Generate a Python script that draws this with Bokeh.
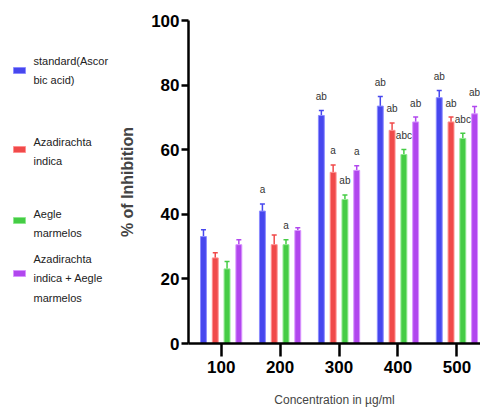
from bokeh.plotting import figure
from bokeh.models import Range1d, ColumnDataSource, Whisker, TeeHead, FixedTicker
from bokeh.layouts import row
from bokeh.core.properties import value
from bokeh.embed import file_html
from bokeh.resources import INLINE

# ---------------- data ----------------
concentrations = ["100", "200", "300", "400", "500"]
series_names = ["standard(Ascor\nbic acid)", "Azadirachta\nindica", " Aegle\nmarmelos",
                "Azadirachta\nindica + Aegle\nmarmelos"]
standard_vals = [33.1, 41.0, 70.6, 73.5, 76.1]
standard_err = [2.1, 2.2, 1.5, 3.0, 2.2]
azadirachta_vals = [26.5, 30.6, 53.0, 66.0, 68.6]
azadirachta_err = [1.6, 3.0, 2.3, 2.3, 1.5]
aegle_vals = [23.1, 30.6, 44.6, 58.5, 63.5]
aegle_err = [2.3, 1.5, 1.4, 1.6, 1.6]
combo_vals = [30.6, 35.0, 53.6, 68.6, 71.1]
combo_err = [1.5, 0.8, 1.4, 1.5, 2.3]
standard_sig = ["", "a", "ab", "ab", "ab"]
azadirachta_sig = ["", "", "a", "ab", "ab"]
aegle_sig = ["", "a", "ab", "abc", "abc"]
combo_sig = ["", "", "a", "ab", "ab"]
y_ticks = [0, 20, 40, 60, 80, 100]

# ---------------- style ----------------
fills = ["#4747ee", "#f04a4a", "#45cc45", "#b147ee"]
edges = ["#8c8cff", "#ff9090", "#8ee88e", "#d894ff"]
offsets = [-0.3, -0.1, 0.1, 0.3]
FONT = "Liberation Sans"
TOP, BOTTOM = 20, 69

p = figure(width=364, height=412, x_range=Range1d(0.446, 5.40), y_range=Range1d(0, 100),
           output_backend="svg", toolbar_location=None,
           min_border_left=69, min_border_right=0, min_border_top=TOP, min_border_bottom=BOTTOM)
p.outline_line_color = None
p.xgrid.visible = False
p.ygrid.visible = False

all_vals = [standard_vals, azadirachta_vals, aegle_vals, combo_vals]
all_err = [standard_err, azadirachta_err, aegle_err, combo_err]
all_sig = [standard_sig, azadirachta_sig, aegle_sig, combo_sig]

for i in range(4):
    xs = [k + 1 + offsets[i] for k in range(len(concentrations))]
    tops = [v + e for v, e in zip(all_vals[i], all_err[i])]
    src = ColumnDataSource(dict(x=xs, y=all_vals[i], top=tops, sig=all_sig[i]))
    p.vbar(x="x", top="y", bottom=0, width=0.1, source=src,
           fill_color=fills[i], line_color=edges[i], line_width=1)
    w = Whisker(base="x", lower="y", upper="top", source=src, dimension="height",
                line_color=fills[i], line_width=1.5, lower_head=None,
                upper_head=TeeHead(size=5, line_color=fills[i], line_width=1.5))
    p.add_layout(w)
    p.text(x="x", y="top", text="sig", source=src, text_align="center",
           text_baseline="middle", y_offset=-14, text_font_size="10px",
           text_font=value(FONT), text_color="#333333")

# axes
p.xaxis.ticker = FixedTicker(ticks=[1, 2, 3, 4, 5])
p.xaxis.major_label_overrides = {k + 1: c for k, c in enumerate(concentrations)}
p.yaxis.ticker = FixedTicker(ticks=y_ticks)
for ax in (p.xaxis, p.yaxis):
    ax.axis_line_width = 2.5
    ax.axis_line_color = "black"
    ax.major_tick_line_width = 2.5
    ax.major_tick_line_color = "black"
    ax.minor_tick_line_color = None
    ax.major_tick_in = 0
    ax.major_label_text_font = FONT
    ax.major_label_text_font_style = "bold"
    ax.major_label_text_font_size = "17px"
    ax.major_label_text_color = "black"
p.yaxis.major_tick_out = 7
p.yaxis.major_label_standoff = 2
p.xaxis.major_tick_out = 13
p.xaxis.major_label_standoff = 4
p.yaxis.axis_label = "% of Inhibition"
p.yaxis.axis_label_text_font = FONT
p.yaxis.axis_label_text_font_style = "bold"
p.yaxis.axis_label_text_font_size = "16px"
p.yaxis.axis_label_standoff = 12
p.xaxis.axis_label = "Concentration in µg/ml"
p.xaxis.axis_label_text_font = FONT
p.xaxis.axis_label_text_font_style = "normal"
p.xaxis.axis_label_text_font_size = "12px"
p.xaxis.axis_label_standoff = 17

# ---------------- legend panel (frame aligned with the chart frame) ----------------
lg = figure(width=116, height=412, x_range=Range1d(0, 116), y_range=Range1d(412 - BOTTOM, TOP),
            output_backend="svg", toolbar_location=None,
            min_border_left=0, min_border_right=0, min_border_top=TOP, min_border_bottom=BOTTOM)
lg.outline_line_color = None
lg.xaxis.visible = False
lg.yaxis.visible = False
lg.xgrid.visible = False
lg.ygrid.visible = False
swatch_y = [70, 149, 220, 273]
label_y = [70, 151, 223, 278]
ssrc = ColumnDataSource(dict(y=swatch_y, fill=fills, edge=edges))
lg.rect(x=19, y="y", width=12, height=6, source=ssrc, fill_color="fill", line_color="edge")
tsrc = ColumnDataSource(dict(y=label_y, name=series_names))
lg.text(x=33, y="y", text="name", source=tsrc, text_baseline="middle", text_align="left",
        text_font=value(FONT), text_font_size="11px", text_line_height=1.6,
        text_color="#222222")

layout = row(lg, p)
open("out.html", "w").write(file_html(layout, INLINE))
